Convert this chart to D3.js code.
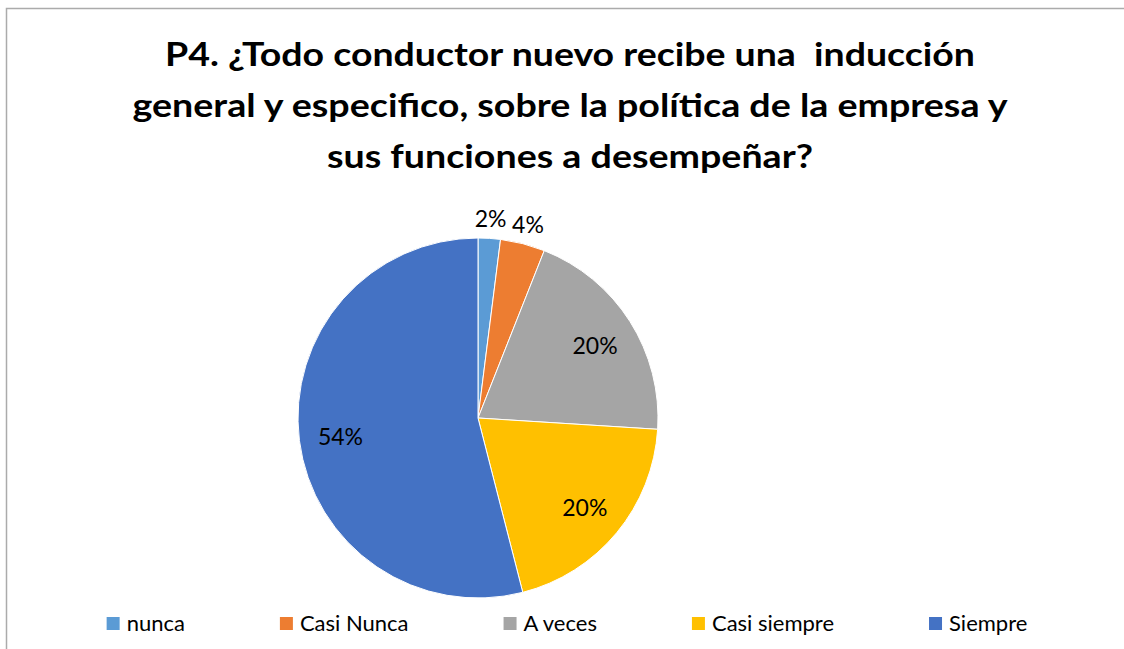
<!DOCTYPE html>
<html>
<head>
<meta charset="utf-8">
<script src="https://cdn.jsdelivr.net/npm/d3@7"></script>
<style>
  body { margin: 0; background: #fff; }
  svg { display: block; }
  text { font-family: Lato, "Open Sans", sans-serif; white-space: pre; }
</style>
</head>
<body>
<div id="chart"></div>
<script>
// chart data
var categories = ['nunca', 'Casi Nunca', 'A veces', 'Casi siempre', 'Siempre'];
var values     = [2, 4, 20, 20, 54];
var colorList  = ['#5B9BD5', '#ED7D31', '#A5A5A5', '#FFC000', '#4472C4'];
var titleLines = [
    'P4. ¿Todo conductor nuevo recibe una  inducción',
    'general y especifico, sobre la política de la empresa y',
    'sus funciones a desempeñar?'
];

var width = 1124,
    height = 649,
    cx = 478,
    cy = 418,
    radius = 180;

var svg = d3.select('#chart').append('svg')
    .attr('width', width)
    .attr('height', height);

// chart border (only top and left edges fall inside the window)
svg.append('rect')
    .attr('x', 6.5)
    .attr('y', 8.5)
    .attr('width', width + 20)
    .attr('height', height + 20)
    .style('fill', 'none')
    .style('stroke', '#ababab')
    .style('stroke-width', 1.5);

// title
var titleWidths = [810, 875, 486];
svg.append('g').selectAll('text').data(titleLines)
    .enter().append('text')
        .attr('x', 570)
        .attr('y', function(d, i) { return 66 + i * 51; })
        .attr('text-anchor', 'middle')
        .attr('textLength', function(d, i) { return titleWidths[i]; })
        .attr('lengthAdjust', 'spacingAndGlyphs')
        .style('font-size', '32px')
        .style('font-weight', 'bold')
        .style('fill', '#000')
        .text(function(d) { return d; });

var color = d3.scaleOrdinal()
    .domain(categories)
    .range(colorList);

var pie = d3.pie()
    .sort(null)
    .value(function(d) { return d.value; });

var data = categories.map(function(c, i) { return {name: c, value: values[i]}; });
var arcs = pie(data);

var arc = d3.arc().innerRadius(0).outerRadius(radius);
var inLabel = d3.arc().innerRadius(radius * 0.77).outerRadius(radius * 0.77);
var outLabel = d3.arc().innerRadius(radius + 21).outerRadius(radius + 21);

var g = svg.append('g').attr('transform', 'translate(' + cx + ',' + cy + ')');

g.selectAll('path').data(arcs)
    .enter().append('path')
        .attr('d', arc)
        .style('fill', function(d) { return color(d.data.name); })
        .style('stroke', '#fff')
        .style('stroke-width', 1);

g.selectAll('text.lbl').data(arcs)
    .enter().append('text')
        .attr('class', 'lbl')
        .attr('transform', function(d) {
            var p = (d.data.value < 10 ? outLabel : inLabel).centroid(d);
            return 'translate(' + p[0] + ',' + (p[1] + 10) + ')';
        })
        .attr('text-anchor', 'middle')
        .style('font-size', '23px')
        .style('fill', '#000')
        .text(function(d) { return d.data.value + '%'; });

// legend - equal gaps between items, centred
var legend = svg.append('g');
var items = legend.selectAll('g').data(categories)
    .enter().append('g');

items.append('rect')
    .attr('width', 13)
    .attr('height', 13)
    .attr('y', 617)
    .style('fill', function(d) { return color(d); });

items.append('text')
    .attr('x', 20)
    .attr('y', 631)
    .style('font-size', '22px')
    .style('fill', '#000')
    .text(function(d) { return d; });

var gap = 95, x = 0, offsets = [];
items.each(function(d, i) {
    offsets.push(x);
    x += 20 + d3.select(this).select('text').node().getComputedTextLength() + gap;
});
var total = x - gap;
var start = 567 - total / 2;
items.attr('transform', function(d, i) { return 'translate(' + (start + offsets[i]) + ',0)'; });
</script>
</body>
</html>
